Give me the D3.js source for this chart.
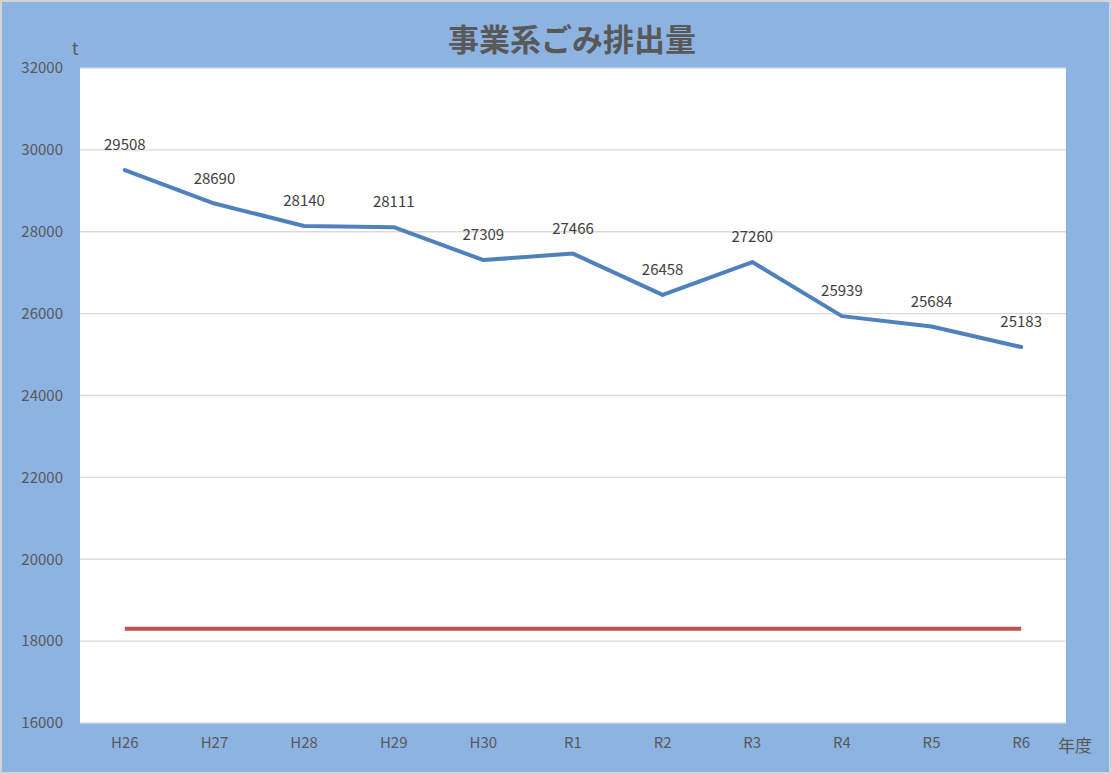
<!DOCTYPE html>
<html><head><meta charset="utf-8">
<script src="https://cdn.jsdelivr.net/npm/d3@7"></script>
<style>body{margin:0;background:#fff}svg{display:block}</style>
</head><body><svg id="chart"></svg>
<script>
const width = 1111
const height = 774

const years = ["H26","H27","H28","H29","H30","R1","R2","R3","R4","R5","R6"]
const amounts = [29508,28690,28140,28111,27309,27466,26458,27260,25939,25684,25183]
const targets = [18300,18300,18300,18300,18300,18300,18300,18300,18300,18300,18300]
const yTicks = [16000,18000,20000,22000,24000,26000,28000,30000,32000]

const font = "'Noto Sans CJK JP', 'Noto Sans', sans-serif"
const plot = {left: 80, right: 1066, top: 68, bottom: 723}

let svg = d3.select("#chart").attr("width", width).attr("height", height)

svg.append("rect").attr("x", 1).attr("y", 1).attr("width", width - 2).attr("height", height - 2)
    .attr("fill", "#8DB3E2").attr("stroke", "#d4d4d4").attr("stroke-width", 2)
svg.append("rect").attr("x", plot.left).attr("y", plot.top)
    .attr("width", plot.right - plot.left).attr("height", plot.bottom - plot.top)
    .attr("fill", "#fff")

const x = d3.scalePoint().domain(years).range([plot.left, plot.right]).padding(0.5)
const y = d3.scaleLinear().domain([16000, 32000]).range([plot.bottom, plot.top])

// gridlines
svg.append("g").selectAll("line").data(yTicks).enter().append("line")
    .attr("x1", plot.left).attr("x2", plot.right)
    .attr("y1", d => y(d)).attr("y2", d => y(d))
    .attr("stroke", "#d9d9d9").attr("stroke-width", 1.3)

// y labels
svg.append("g").selectAll("text").data(yTicks).enter().append("text")
    .attr("x", 63).attr("y", d => y(d)).attr("dy", ".35em")
    .attr("text-anchor", "end").attr("font-family", font).attr("font-size", 15)
    .attr("fill", "#595959").text(d => d)

// x labels
svg.append("g").selectAll("text").data(years).enter().append("text")
    .attr("x", d => x(d)).attr("y", 748).attr("text-anchor", "middle")
    .attr("font-family", font).attr("font-size", 15).attr("fill", "#595959").text(d => d)

const line = d3.line().x((d, i) => x(years[i])).y(d => y(d))

svg.append("path").datum(targets).attr("d", line)
    .attr("fill", "none").attr("stroke", "#C0504D").attr("stroke-width", 4)
svg.append("path").datum(amounts).attr("d", line)
    .attr("fill", "none").attr("stroke", "#4F81BD").attr("stroke-width", 4)
    .attr("stroke-linejoin", "round").attr("stroke-linecap", "round")

svg.append("g").selectAll("text").data(amounts).enter().append("text")
    .attr("x", (d, i) => x(years[i])).attr("y", d => y(d) - 20)
    .attr("text-anchor", "middle").attr("font-family", font).attr("font-size", 15)
    .attr("fill", "#404040").text(d => d)

svg.append("text").attr("x", 572).attr("y", 51).attr("text-anchor", "middle")
    .attr("font-family", font).attr("font-size", 31).attr("font-weight", "bold")
    .attr("fill", "#595959").text("事業系ごみ排出量")
svg.append("text").attr("x", 72).attr("y", 55).attr("font-family", font)
    .attr("font-size", 17).attr("fill", "#595959").text("t")
svg.append("text").attr("x", 1058).attr("y", 752).attr("font-family", font)
    .attr("font-size", 17).attr("fill", "#595959").text("年度")
</script></body></html>
